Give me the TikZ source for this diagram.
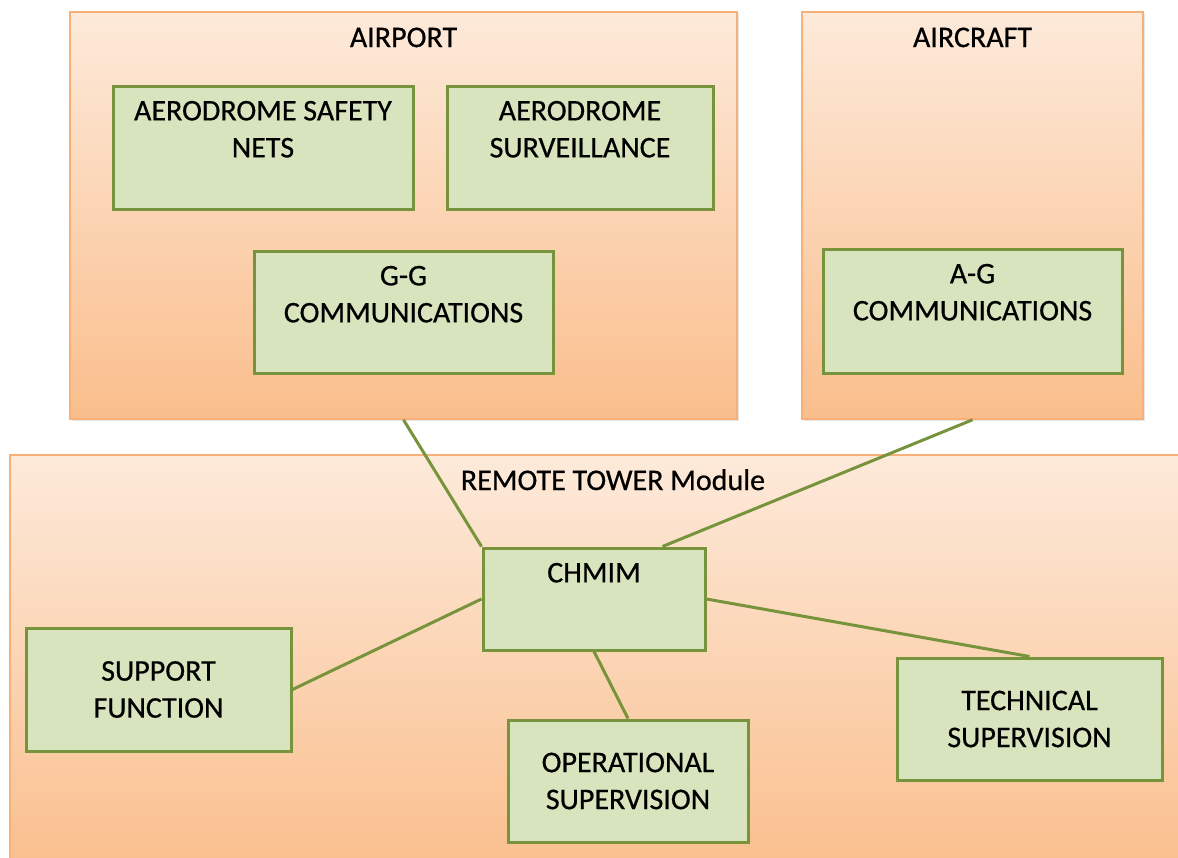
\documentclass[tikz,border=0pt]{standalone}
\usepackage{fontspec}
\setmainfont{Carlito}
\newfontfamily\unitface{Carlito}[FakeBold=0.6]
\usetikzlibrary{shadows}
\definecolor{zonetop}{RGB}{253,234,218}
\definecolor{zonebottom}{RGB}{250,190,140}
\definecolor{zoneline}{RGB}{248,176,120}
\definecolor{unitfill}{RGB}{215,228,189}
\definecolor{unitline}{RGB}{119,147,60}
\newcommand\unitfont{\unitface\fontsize{15}{18.5}\selectfont}
\begin{document}
\begin{tikzpicture}[x=.5pt,y=-.5pt,
  zone/.style={draw=zoneline,line width=.8pt,top color=zonetop,bottom color=zonebottom,inner sep=0pt,
    drop shadow={opacity=.2,shadow xshift=.8pt,shadow yshift=-.8pt}},
  unit/.style={draw=unitline,line width=1.5pt,fill=unitfill,inner sep=0pt,align=center,font=\unitfont},
  title/.style={anchor=north,inner sep=0pt,yshift=-8pt,align=center,font=\unitfont},
  link/.style={draw=unitline,line width=1.5pt}]
\useasboundingbox (0,0) rectangle (1178,857);
\clip (0,0) rectangle (1178,857);

\node[zone,minimum width=333.5pt,minimum height=203.5pt,label={[title]north:AIRPORT}] (airport) at (403.5,215.5) {};
\node[zone,minimum width=170.5pt,minimum height=203.5pt,label={[title]north:AIRCRAFT}] (aircraft) at (972.5,215.5) {};
\node[zone,minimum width=603pt,minimum height=210pt,label={[title,yshift=.7pt]north:REMOTE TOWER Module}] (tower) at (613,665) {};

\node[unit,minimum width=150pt,minimum height=61.5pt,label={[title]north:AERODROME SAFETY\\NETS}] (nets) at (263,147.5) {};
\node[unit,minimum width=133pt,minimum height=61.5pt,label={[title]north:AERODROME\\SURVEILLANCE}] (surv) at (580,147.5) {};
\node[unit,minimum width=149.5pt,minimum height=61pt,label={[title]north:G-G\\COMMUNICATIONS}] (gg) at (403.5,312) {};
\node[unit,minimum width=149.5pt,minimum height=62pt,label={[title]north:A-G\\COMMUNICATIONS}] (ag) at (972.5,311) {};

\node[unit,minimum width=111pt,minimum height=51pt,label={[title]north:CHMIM}] (chmim) at (594,599) {};
\node[unit,minimum width=132.5pt,minimum height=61.5pt] (support) at (158.5,689.5) {SUPPORT\\FUNCTION};
\node[unit,minimum width=120pt,minimum height=61pt] (oper) at (628,781) {OPERATIONAL\\SUPERVISION};
\node[unit,minimum width=132.5pt,minimum height=61pt] (tech) at (1029.5,719) {TECHNICAL\\SUPERVISION};

\draw[link] (airport.south) -- (chmim.north west);
\draw[link] (aircraft.south) -- ([xshift=-22pt]chmim.north east);
\draw[link] (chmim.west) -- (support.east);
\draw[link] (chmim.south) -- (oper.north);
\draw[link] (chmim.east) -- (tech.north);
\end{tikzpicture}
\end{document}
